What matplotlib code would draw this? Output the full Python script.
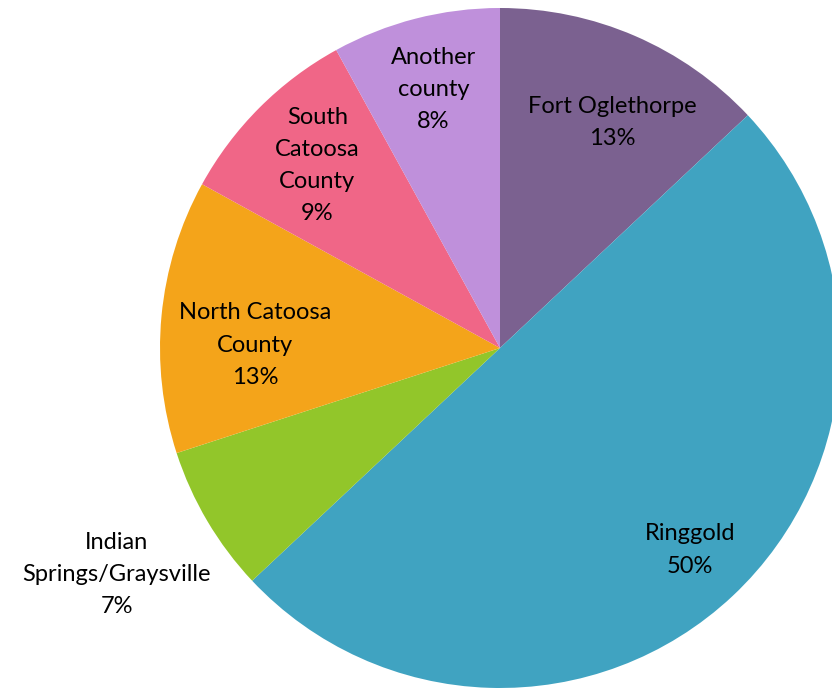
import numpy as np
import matplotlib
matplotlib.use("Agg")
import matplotlib.pyplot as plt

# data
labels = ['Fort Oglethorpe', 'Ringgold', 'Indian\nSprings/Graysville',
          'North Catoosa\nCounty', 'South\nCatoosa\nCounty', 'Another\ncounty']
shares = [13, 50, 7, 13, 9, 8]
colors = ['#7B6190', '#40A3C1', '#92C62A', '#F4A41A', '#F06687', '#BF90DB']
label_dist = [0.74, 0.815, 1.31, 0.72, 0.76, 0.785]
label_turn = [-3.0, 0.0, 0.0, 4.7, 0.0, 0.0]  # degrees, nudges off the mid-angle

plt.rcParams['font.family'] = ['Lato', 'DejaVu Sans']

fig = plt.figure(figsize=(8.32, 6.88), dpi=100)
ax = fig.add_axes([0, 0, 1, 1])
wedges, _ = ax.pie(shares, colors=colors, startangle=90, counterclock=False,
                   radius=1.0, wedgeprops=dict(linewidth=0))

for w, lab, val, d, t in zip(wedges, labels, shares, label_dist, label_turn):
    mid = np.deg2rad((w.theta1 + w.theta2) / 2 + t)
    ax.text(d * np.cos(mid), d * np.sin(mid), f'{lab}\n{val}%',
            ha='center', va='center', fontsize=17, linespacing=1.65,
            color='black')

# centre of pie at pixel (500, 348) from top-left, radius 340 px
ax.set_xlim(-500 / 340, 332 / 340)
ax.set_ylim(-340 / 340, 348 / 340)
ax.set_aspect('auto')
ax.axis('off')

fig.savefig('out.png', dpi=100)
